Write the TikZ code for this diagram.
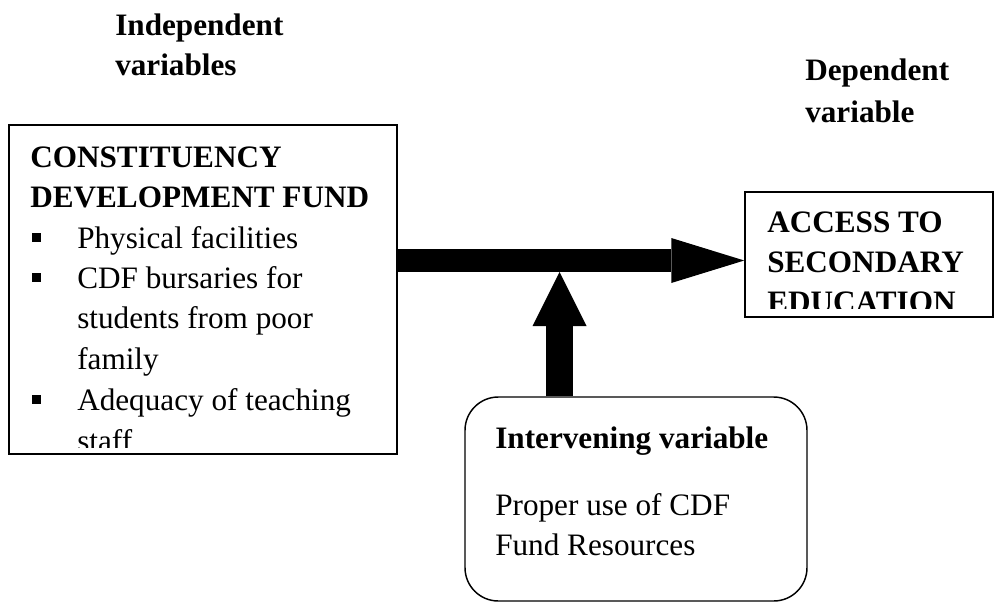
\documentclass[tikz,border=0pt]{standalone}
\usepackage{fontspec}
\setmainfont{Liberation Serif}
\usetikzlibrary{arrows.meta,fit}

\tikzset{
  varbox/.style={draw, line width=1.1pt, inner sep=0pt},
  txt/.style={anchor=base west, inner sep=0pt, font=\fontsize{23.4pt}{30pt}\selectfont},
  head/.style={txt, font=\fontsize{23.4pt}{30pt}\selectfont\bfseries},
}

\begin{document}
\begin{tikzpicture}[x=0.75pt,y=0.75pt,yscale=-1,xscale=1]
\useasboundingbox (0,0) rectangle (995,607);

% Text Node
\node[head] (indep1) at (115,35) {Independent};
\node[head] (indep2) at (115,75) {variables};
% Text Node
\node[head] (dep1) at (805,80) {Dependent};
\node[head] (dep2) at (805,122) {variable};

%Shape: Rectangle
\node[varbox, fit={(9,125) (397,454)}] (cdf) {};
%Shape: Rectangle
\node[varbox, fit={(745,192) (993,317)}] (access) {};
%Rounded Rect
\node[varbox, rounded corners=25pt, fit={(465,397) (807,601)}] (interv) {};

% text of the fund box, cut at the lower margin
\begin{scope}
\clip (cdf.north west) rectangle (397,447);
\node[head] (cdf1) at (30,167) {CONSTITUENCY};
\node[head] (cdf2) at (30,207) {DEVELOPMENT FUND};
\foreach \y/\txt [count=\i] in {248/Physical facilities, 288/CDF bursaries for, 328/students from poor, 369/family, 410/Adequacy of teaching, 451/staff}
  \node[txt] (item\i) at (77,\y) {\txt};
\foreach \y in {248,288,410}
  \fill (32,\y-15) rectangle (41,\y-6);
\end{scope}

% text of the access box, cut at the lower margin
\begin{scope}
\clip (access.north west) rectangle (993,308);
\node[head] (acc1) at (767,232) {ACCESS TO};
\node[head] (acc2) at (767,272) {SECONDARY};
\node[head] (acc3) at (767,312) {EDUCATION};
\end{scope}

% Text Node
\node[head] (int1) at (495,448) {Intervening variable};
\node[txt] (int2) at (495,515) {Proper use of CDF};
\node[txt] (int3) at (495,555) {Fund Resources};

%Right Arrow
\coordinate (flow) at (0,260.5);
\draw[line width=17.25pt, -{Triangle[length=54.75pt,width=33.75pt,line width=0pt]}] (cdf.east |- flow) -- (access.west |- flow);
%Up Arrow
\coordinate (meet) at (559.5,272);
\draw[line width=20.25pt, -{Triangle[length=40.5pt,width=40.5pt,line width=0pt]}] (meet |- interv.north) -- (meet);

\end{tikzpicture}
\end{document}
